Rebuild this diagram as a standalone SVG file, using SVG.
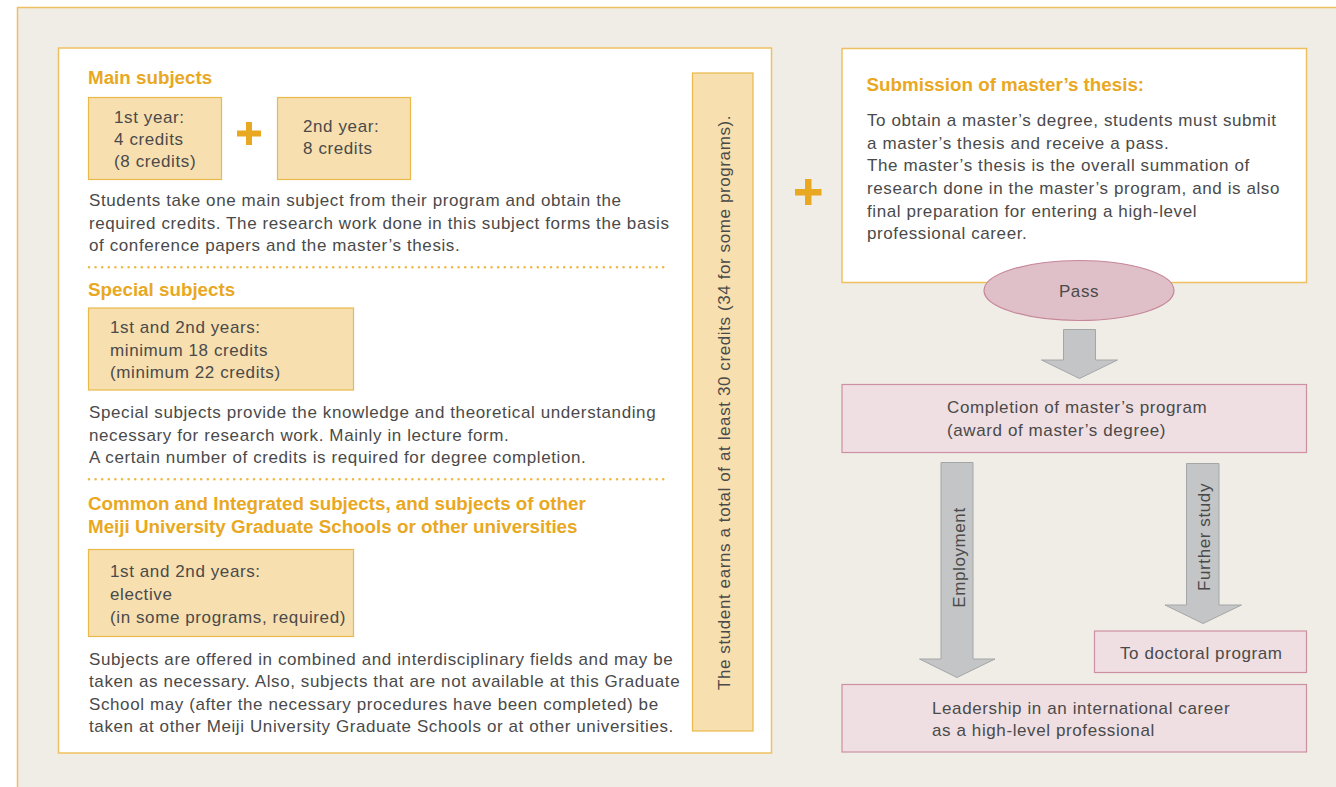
<svg xmlns="http://www.w3.org/2000/svg" width="1336" height="787" viewBox="0 0 1336 787">
<style>
text{font-family:"Liberation Sans",Arial,sans-serif;fill:#4a4a4a;font-size:17px;letter-spacing:0.6px}
.h{fill:#e9a822;font-weight:bold;font-size:18.8px;letter-spacing:0}
.yb{fill:#f7dfb0;stroke:#eab94a;stroke-width:1.2}
.wp{fill:#ffffff;stroke:#efc060;stroke-width:1.5}
.pk{fill:#efdfe2;stroke:#cd8fa2;stroke-width:1.2}
.arr{fill:#c4c5c7;stroke:#a5a6a8;stroke-width:1}
.dot{stroke:#efb845;stroke-width:2.6;stroke-linecap:round;stroke-dasharray:0 6.6;fill:none}
.plus{fill:#e9a822}
</style>
<rect x="0" y="0" width="1336" height="787" fill="#ffffff"/>
<rect x="17.5" y="7.5" width="1330" height="790" fill="#f0ede6" stroke="#efc060" stroke-width="1.5"/>

<g id="left-panel">
<rect class="wp" x="58.5" y="48" width="713" height="705"/>
</g>

<g id="main-subjects">
<text class="h" x="88" y="84">Main subjects</text>
<g id="main-1st">
<rect class="yb" x="88.5" y="97.5" width="133" height="82"/>
<text x="114" y="123">1st year:</text>
<text x="114" y="145">4 credits</text>
<text x="114" y="167">(8 credits)</text>
</g>
<g id="plus1"><rect class="plus" x="237" y="130.5" width="24" height="6"/><rect class="plus" x="246" y="122" width="6" height="23"/></g>
<g id="main-2nd">
<rect class="yb" x="277.5" y="97.5" width="133" height="82"/>
<text x="303" y="132">2nd year:</text>
<text x="303" y="154">8 credits</text>
</g>
<text x="89" y="206">Students take one main subject from their program and obtain the</text>
<text x="89" y="228.5">required credits. The research work done in this subject forms the basis</text>
<text x="89" y="251">of conference papers and the master’s thesis.</text>
<line class="dot" x1="89" y1="267.3" x2="666" y2="267.3"/>
</g>

<g id="special-subjects">
<text class="h" x="88" y="296">Special subjects</text>
<rect class="yb" x="88.5" y="308" width="265" height="82"/>
<text x="110" y="333">1st and 2nd years:</text>
<text x="110" y="355.5">minimum 18 credits</text>
<text x="110" y="378">(minimum 22 credits)</text>
<text x="89" y="418">Special subjects provide the knowledge and theoretical understanding</text>
<text x="89" y="440.5">necessary for research work. Mainly in lecture form.</text>
<text x="89" y="463">A certain number of credits is required for degree completion.</text>
<line class="dot" x1="89" y1="479.3" x2="666" y2="479.3"/>
</g>

<g id="common-subjects">
<text class="h" x="88" y="510">Common and Integrated subjects, and subjects of other</text>
<text class="h" x="88" y="532.5">Meiji University Graduate Schools or other universities</text>
<rect class="yb" x="88.5" y="549.5" width="265" height="87"/>
<text x="110" y="577">1st and 2nd years:</text>
<text x="110" y="600">elective</text>
<text x="110" y="623">(in some programs, required)</text>
<text x="89" y="664.5">Subjects are offered in combined and interdisciplinary fields and may be</text>
<text x="89" y="687">taken as necessary. Also, subjects that are not available at this Graduate</text>
<text x="89" y="709.5">School may (after the necessary procedures have been completed) be</text>
<text x="89" y="732">taken at other Meiji University Graduate Schools or at other universities.</text>
</g>

<g id="total-credits">
<rect class="yb" x="692.5" y="73" width="60.5" height="658"/>
<text transform="translate(730,402.5) rotate(-90)" text-anchor="middle">The student earns a total of at least 30 credits (34 for some programs).</text>
</g>

<g id="plus2"><rect class="plus" x="795" y="189" width="26.5" height="6.5"/><rect class="plus" x="805" y="179" width="6.5" height="26"/></g>

<g id="thesis">
<rect class="wp" x="842" y="48.5" width="464.5" height="234"/>
<text class="h" x="866.5" y="91">Submission of master’s thesis:</text>
<text x="867" y="126">To obtain a master’s degree, students must submit</text>
<text x="867" y="148.5">a master’s thesis and receive a pass.</text>
<text x="867" y="171">The master’s thesis is the overall summation of</text>
<text x="867" y="194">research done in the master’s program, and is also</text>
<text x="867" y="216.5">final preparation for entering a high-level</text>
<text x="867" y="239">professional career.</text>
</g>

<g id="pass">
<ellipse cx="1079" cy="290.5" rx="95" ry="30" fill="#dfbfc8" stroke="#c6869a" stroke-width="1.2"/>
<text x="1079" y="297" text-anchor="middle">Pass</text>
</g>

<g id="completion">
<rect class="pk" x="842" y="384.5" width="464.5" height="68"/>
<text x="947" y="413">Completion of master’s program</text>
<text x="947" y="435.5">(award of master’s degree)</text>
</g>

<g id="doctoral">
<rect class="pk" x="1094.5" y="631" width="212" height="41.5"/>
<text x="1120" y="659">To doctoral program</text>
</g>

<g id="leadership">
<rect class="pk" x="842" y="684.5" width="464.5" height="67.5"/>
<text x="932" y="714">Leadership in an international career</text>
<text x="932" y="736">as a high-level professional</text>
</g>

<g id="connectors">
<path class="arr" d="M1063.5,329.5 H1095.5 V360 H1117.5 L1079.5,378.5 L1041.5,360 H1063.5 Z"/>
<path class="arr" d="M941,462.5 H973 V659 H995 L957,677.5 L919.5,659 H941 Z"/>
<text transform="translate(965,557.5) rotate(-90)" text-anchor="middle">Employment</text>
<path class="arr" d="M1186.5,463.5 H1219 V605 H1241.5 L1203,623.5 L1165,605 H1186.5 Z"/>
<text transform="translate(1210,537) rotate(-90)" text-anchor="middle">Further study</text>
</g>
</svg>
